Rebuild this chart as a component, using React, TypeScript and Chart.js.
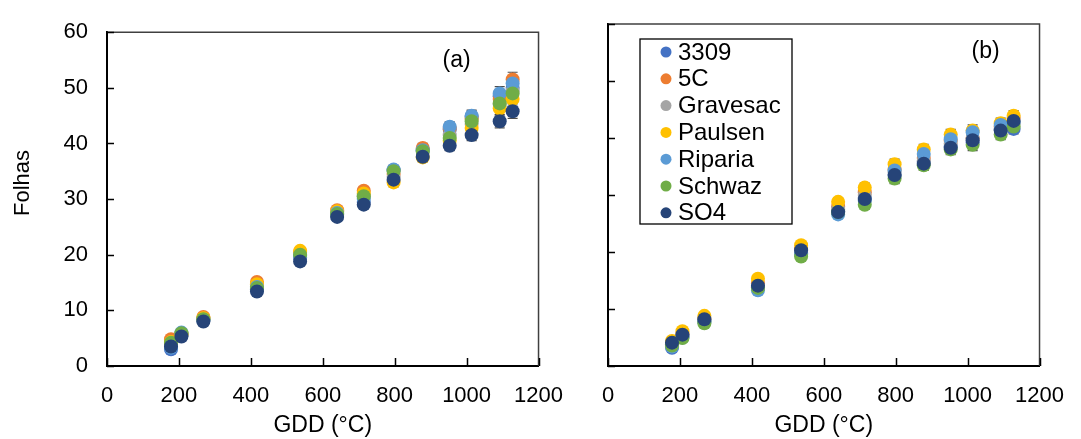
import React, { useEffect, useRef } from "react";
import { Chart, registerables } from "chart.js";

Chart.register(...registerables);

// Growing degree days at each leaf count
const gdd = [178, 207, 268, 417, 537, 640, 714, 797, 878, 953, 1014, 1092, 1128];

const cultivars = ["3309", "5C", "Gravesac", "Paulsen", "Riparia", "Schwaz", "SO4"];
const colors = ["#4472C4", "#ED7D31", "#A5A5A5", "#FFC000", "#5B9BD5", "#70AD47", "#264478"];

// Panel (a): leaves per shoot
const a3309 = [3.0, 5.5, 8.2, 13.8, 19.5, 27.2, 29.5, 35.2, 38.8, 42.5, 44.8, 48.5, 50.0];
const a5C = [4.8, 5.8, 8.8, 15.1, 20.5, 28.0, 31.5, 34.5, 39.2, 42.8, 44.5, 48.0, 51.5];
const aGravesac = [4.0, 5.6, 8.4, 14.3, 20.0, 27.5, 30.5, 34.0, 38.5, 41.5, 43.5, 47.0, 49.5];
const aPaulsen = [4.3, 5.7, 8.6, 14.7, 20.7, 27.8, 31.0, 33.0, 37.5, 40.5, 42.8, 46.3, 48.0];
const aRiparia = [3.3, 6.0, 8.3, 14.2, 19.8, 27.5, 30.0, 35.3, 38.8, 43.0, 45.0, 49.0, 50.8];
const aSchwaz = [4.2, 5.9, 8.4, 14.0, 20.0, 27.3, 30.5, 35.0, 38.6, 41.0, 44.0, 47.2, 49.0];
const aSO4 = [3.5, 5.3, 8.0, 13.4, 18.8, 26.8, 29.0, 33.5, 37.6, 39.6, 41.5, 44.0, 45.8];
const aErr = [0.4, 0.4, 0.4, 0.5, 0.5, 0.6, 0.7, 0.8, 0.8, 0.9, 1.0, 1.2, 1.3];

// Panel (b): leaves per shoot
const b3309 = [3.2, 5.2, 7.8, 13.8, 19.8, 27.0, 29.5, 33.5, 35.8, 38.5, 39.2, 41.5, 41.6];
const b5C = [3.8, 5.6, 8.3, 14.5, 20.5, 28.0, 30.5, 34.5, 36.5, 39.5, 40.0, 42.0, 43.5];
const bGravesac = [3.8, 5.5, 8.0, 14.0, 20.0, 27.5, 30.0, 34.0, 36.0, 39.0, 40.0, 41.5, 42.5];
const bPaulsen = [4.4, 6.1, 8.8, 15.3, 21.2, 28.8, 31.3, 35.4, 38.0, 40.6, 41.3, 42.6, 43.9];
const bRiparia = [3.4, 5.0, 7.7, 13.3, 19.6, 26.6, 29.0, 34.3, 37.2, 39.8, 41.0, 42.3, 42.8];
const bSchwaz = [3.6, 4.9, 7.5, 13.7, 19.2, 27.0, 28.3, 32.9, 35.2, 38.0, 38.8, 40.6, 42.0];
const bSO4 = [4.1, 5.5, 8.2, 14.1, 20.3, 27.0, 29.3, 33.5, 35.5, 38.3, 39.6, 41.3, 43.0];
const bErr = [0.5, 0.5, 0.5, 0.6, 0.6, 0.7, 0.8, 0.9, 0.9, 0.9, 1.0, 0.9, 0.9];

const xTicks = [0, 200, 400, 600, 800, 1000, 1200];
const yTicks = [0, 10, 20, 30, 40, 50, 60];

const FONT = "'Liberation Sans', Arial, sans-serif";

function buildDatasets(series: number[][]) {
  const n = series.length;
  return series.map((vals, i) => ({
    label: cultivars[i],
    data: vals.map((v, j) => ({ x: gdd[j], y: v })),
    backgroundColor: colors[i],
    borderColor: colors[i],
    pointRadius: 7,
    pointBorderWidth: 0,
    pointHoverRadius: 7,
    showLine: false,
    // later cultivars are painted over earlier ones
    order: n - 1 - i,
  }));
}

interface DecorCfg {
  errors: number[];
  tag: string;
  tagOffset: number;
  legend: boolean;
  yTitle: boolean;
}

function decorPlugin(cfg: DecorCfg) {
  return {
    id: "decor",
    beforeDatasetsDraw(chart: any) {
      const { ctx, chartArea: ca, scales } = chart;
      const sx = scales.x;
      const sy = scales.y;
      ctx.save();
      // upper and right frame of the plot area
      ctx.strokeStyle = "#404040";
      ctx.lineWidth = 1.5;
      ctx.beginPath();
      ctx.moveTo(ca.left, ca.top);
      ctx.lineTo(ca.right, ca.top);
      ctx.lineTo(ca.right, ca.bottom);
      ctx.stroke();

      // inward tick marks
      ctx.strokeStyle = "#000";
      ctx.lineWidth = 1.5;
      ctx.beginPath();
      xTicks.forEach((t) => {
        const px = Math.round(sx.getPixelForValue(t)) + 0.5;
        ctx.moveTo(px, ca.bottom);
        ctx.lineTo(px, ca.bottom - 8);
      });
      yTicks.forEach((t) => {
        const py = Math.round(sy.getPixelForValue(t)) + 0.5;
        ctx.moveTo(ca.left, py);
        ctx.lineTo(ca.left + 7, py);
      });
      ctx.stroke();

      // error bars
      ctx.strokeStyle = "#4d4d4d";
      ctx.lineWidth = 1.2;
      chart.data.datasets.forEach((ds: any) => {
        ds.data.forEach((p: any, j: number) => {
          const e = cfg.errors[j];
          const px = sx.getPixelForValue(p.x);
          const top = sy.getPixelForValue(p.y + e);
          const bot = sy.getPixelForValue(p.y - e);
          ctx.beginPath();
          ctx.moveTo(px, top);
          ctx.lineTo(px, bot);
          ctx.moveTo(px - 5, top);
          ctx.lineTo(px + 5, top);
          ctx.moveTo(px - 5, bot);
          ctx.lineTo(px + 5, bot);
          ctx.stroke();
        });
      });
      ctx.restore();
    },
    afterDraw(chart: any) {
      const { ctx, chartArea: ca } = chart;
      ctx.save();
      ctx.fillStyle = "#000";
      ctx.textAlign = "center";
      ctx.textBaseline = "middle";
      ctx.font = `23px ${FONT}`;
      ctx.fillText(cfg.tag, ca.right - cfg.tagOffset, ca.top + 28);

      if (cfg.yTitle) {
        ctx.save();
        ctx.translate(23, 183);
        ctx.rotate(-Math.PI / 2);
        ctx.font = `22px ${FONT}`;
        ctx.fillText("Folhas", 0, 0);
        ctx.restore();
      }

      if (cfg.legend) {
        const bx = ca.left + 32;
        const by = ca.top + 15;
        const bw = 152;
        const bh = 185;
        ctx.fillStyle = "#fff";
        ctx.fillRect(bx, by, bw, bh);
        ctx.strokeStyle = "#000";
        ctx.lineWidth = 1.3;
        ctx.strokeRect(bx, by, bw, bh);
        ctx.textAlign = "left";
        ctx.font = `24px ${FONT}`;
        chart.data.datasets.forEach((ds: any, i: number) => {
          const cy = by + 13 + i * 26.8;
          ctx.fillStyle = ds.backgroundColor;
          ctx.beginPath();
          ctx.arc(bx + 26, cy, 5.5, 0, Math.PI * 2);
          ctx.fill();
          ctx.fillStyle = "#000";
          ctx.fillText(ds.label, bx + 38, cy + 1);
        });
      }
      ctx.restore();
    },
  };
}

function makeConfig(
  series: number[][],
  cfg: DecorCfg,
  yAxisWidth: number,
  padTop: number,
  padRight: number,
  showYLabels: boolean
): any {
  return {
    type: "scatter",
    data: { datasets: buildDatasets(series) },
    options: {
      responsive: false,
      animation: false,
      devicePixelRatio: 1,
      layout: { padding: { top: padTop, right: padRight, left: 0, bottom: 0 } },
      plugins: { legend: { display: false }, tooltip: { enabled: false } },
      events: [],
      scales: {
        x: {
          type: "linear",
          min: 0,
          max: 1200,
          afterBuildTicks: (s: any) => {
            s.ticks = xTicks.map((v) => ({ value: v }));
          },
          afterFit: (s: any) => {
            s.height = 73;
          },
          grid: { display: false, drawTicks: false },
          border: { display: true, color: "#000", width: 2 },
          ticks: {
            color: "#000",
            font: { family: FONT, size: 22 },
            padding: 17,
            maxRotation: 0,
            autoSkip: false,
            callback: (v: any) => String(v),
          },
          title: {
            display: true,
            text: "GDD (°C)",
            color: "#000",
            font: { family: FONT, size: 23 },
            padding: { top: 0, bottom: 0 },
          },
        },
        y: {
          type: "linear",
          min: 0,
          max: 60,
          afterBuildTicks: (s: any) => {
            s.ticks = yTicks.map((v) => ({ value: v }));
          },
          afterFit: (s: any) => {
            s.width = yAxisWidth;
          },
          grid: { display: false, drawTicks: false },
          border: { display: true, color: "#000", width: 2 },
          ticks: {
            display: showYLabels,
            color: "#000",
            font: { family: FONT, size: 22 },
            padding: 19,
            callback: (v: any) => String(v),
          },
        },
      },
    },
    plugins: [decorPlugin(cfg)],
  };
}

export default function App() {
  const refA = useRef<HTMLCanvasElement>(null);
  const refB = useRef<HTMLCanvasElement>(null);

  useEffect(() => {
    const chartA = new Chart(
      refA.current as HTMLCanvasElement,
      makeConfig(
        [a3309, a5C, aGravesac, aPaulsen, aRiparia, aSchwaz, aSO4],
        { errors: aErr, tag: "(a)", tagOffset: 82, legend: false, yTitle: true },
        107,
        23,
        26,
        true
      )
    );
    const chartB = new Chart(
      refB.current as HTMLCanvasElement,
      makeConfig(
        [b3309, b5C, bGravesac, bPaulsen, bRiparia, bSchwaz, bSO4],
        { errors: bErr, tag: "(b)", tagOffset: 54, legend: true, yTitle: false },
        28,
        24,
        30,
        false
      )
    );
    return () => {
      chartA.destroy();
      chartB.destroy();
    };
  }, []);

  return (
    <div
      style={{
        position: "absolute",
        left: 0,
        top: 0,
        width: 1081,
        height: 439,
        background: "#fff",
        overflow: "hidden",
      }}
    >
      <canvas
        ref={refA}
        width={580}
        height={439}
        style={{ position: "absolute", left: 0, top: 0 }}
      />
      <canvas
        ref={refB}
        width={501}
        height={439}
        style={{ position: "absolute", left: 580, top: 0 }}
      />
    </div>
  );
}
